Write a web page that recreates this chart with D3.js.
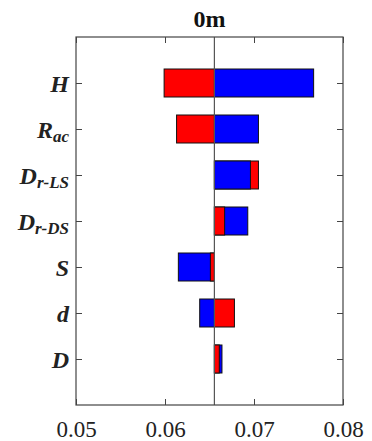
<!DOCTYPE html>
<html>
<head>
<meta charset="utf-8">
<script src="https://cdn.jsdelivr.net/npm/d3@7"></script>
<style>
  body { margin: 0; background: #fff; }
  text { font-family: "Liberation Serif", "Times New Roman", serif; }
</style>
</head>
<body>
<div id="chart"></div>
<script>
// parameter names (main part + subscript)
var names = ["H", "R", "D", "D", "S", "d", "D"];
var subs = ["", "ac", "r-LS", "r-DS", "", "", ""];
// output values for the two cases
var redVals = [0.0599, 0.0613, 0.0705, 0.0667, 0.0651, 0.0678, 0.0661];
var blueVals = [0.0767, 0.0705, 0.0696, 0.0693, 0.0615, 0.0639, 0.0664];
var base = 0.06555;
var xTicks = [0.05, 0.06, 0.07, 0.08];
var title = "0m";

var width = 372, height = 441;
var margin = {top: 37, right: 29, bottom: 36, left: 76};

var svg = d3.select("#chart")
  .append("svg")
  .attr("width", width)
  .attr("height", height);

var x = d3.scaleLinear().domain([0.05, 0.08]).range([margin.left, width - margin.right]);
var y = d3.scaleLinear().domain([0, names.length + 1]).range([margin.top, height - margin.bottom]);
var barH = 28;

// build bars, longer one drawn first so the short one stays visible
var bars = [];
names.forEach(function(n, i) {
  var pair = [
    {i: i, v: redVals[i], c: "#ff0000"},
    {i: i, v: blueVals[i], c: "#0000ff"}
  ];
  pair.sort(function(a, b) { return Math.abs(b.v - base) - Math.abs(a.v - base); });
  bars = bars.concat(pair);
});

svg.selectAll(".bar")
  .data(bars)
  .enter().append("rect")
  .attr("class", "bar")
  .attr("x", function(d) { return x(Math.min(d.v, base)); })
  .attr("width", function(d) { return Math.abs(x(d.v) - x(base)); })
  .attr("y", function(d) { return y(d.i + 1) - barH / 2; })
  .attr("height", barH)
  .attr("fill", function(d) { return d.c; })
  .attr("stroke", "#111")
  .attr("stroke-width", 1);

// base line
svg.append("line")
  .attr("x1", x(base)).attr("x2", x(base))
  .attr("y1", y(0)).attr("y2", y(names.length + 1))
  .attr("stroke", "#555")
  .attr("stroke-width", 1.2);

// box axes
var axisColor = "#444";
svg.append("rect")
  .attr("x", margin.left).attr("y", margin.top)
  .attr("width", width - margin.left - margin.right)
  .attr("height", height - margin.top - margin.bottom)
  .attr("fill", "none")
  .attr("stroke", axisColor)
  .attr("stroke-width", 1.2);

var xAxis = d3.axisBottom(x).tickValues(xTicks).tickFormat(d3.format(".2f")).tickSizeInner(-6).tickSizeOuter(0).tickPadding(16);
var gx = svg.append("g")
  .attr("transform", "translate(0," + (height - margin.bottom) + ")")
  .call(xAxis);
gx.select(".domain").remove();
gx.selectAll("line").attr("stroke", axisColor);
gx.selectAll("text")
  .attr("font-size", 23)
  .attr("fill", "#222")
  .attr("font-family", "Liberation Serif, serif");

var gxTop = svg.append("g")
  .attr("transform", "translate(0," + margin.top + ")")
  .call(d3.axisTop(x).tickValues(xTicks).tickSizeInner(-6).tickSizeOuter(0).tickFormat(""));
gxTop.select(".domain").remove();
gxTop.selectAll("line").attr("stroke", axisColor);

var cats = d3.range(1, names.length + 1);
var gyR = svg.append("g")
  .attr("transform", "translate(" + (width - margin.right) + ",0)")
  .call(d3.axisRight(y).tickValues(cats).tickSizeInner(-6).tickSizeOuter(0).tickFormat(""));
gyR.select(".domain").remove();
gyR.selectAll("line").attr("stroke", axisColor);

var gyL = svg.append("g")
  .attr("transform", "translate(" + margin.left + ",0)")
  .call(d3.axisLeft(y).tickValues(cats).tickSizeInner(-6).tickSizeOuter(0).tickFormat(""));
gyL.select(".domain").remove();
gyL.selectAll("line").attr("stroke", axisColor);

// category labels with subscripts
var labels = svg.selectAll(".lab")
  .data(names)
  .enter().append("text")
  .attr("class", "lab")
  .attr("x", margin.left - 7)
  .attr("y", function(d, i) { return y(i + 1) + 9; })
  .attr("text-anchor", "end")
  .attr("font-weight", "bold")
  .attr("font-style", "italic")
  .attr("font-size", 24)
  .attr("fill", "#222");
labels.append("tspan").text(function(d) { return d; });
labels.append("tspan")
  .attr("font-size", 17)
  .attr("dy", 4)
  .text(function(d, i) { return subs[i]; });

// title
svg.append("text")
  .attr("x", x(base) - 5)
  .attr("y", 27)
  .attr("text-anchor", "middle")
  .attr("font-weight", "bold")
  .attr("font-size", 24)
  .attr("fill", "#111")
  .text(title);
</script>
</body>
</html>
